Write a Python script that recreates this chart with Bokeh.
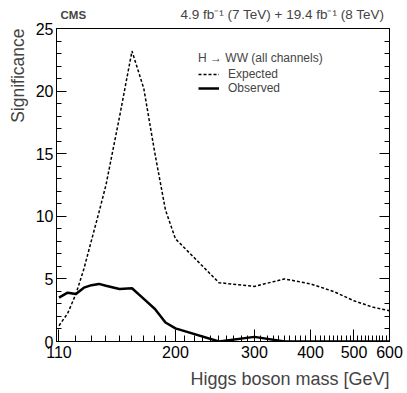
from bokeh.plotting import figure
from bokeh.models import (Range1d, FixedTicker, SingleIntervalTicker, LinearAxis,
                          Legend, LegendItem, Title, Label, CustomLabelingPolicy)
from bokeh.embed import file_html
from bokeh.resources import INLINE

# ---- data ----
mass = [110, 115, 120, 125, 130, 135, 140, 150, 160, 170, 180, 190, 200,
        250, 300, 350, 400, 450, 500, 550, 600]
expected = [1.26, 2.25, 3.8, 5.8, 8.1, 10.3, 12.5, 17.9, 23.2, 20.2, 15.0, 10.5, 8.2,
            4.7, 4.4, 5.0, 4.6, 4.0, 3.25, 2.75, 2.45]
observed = [3.5, 3.9, 3.8, 4.3, 4.5, 4.6, 4.45, 4.2, 4.25, 3.4, 2.6, 1.52, 1.05,
            0.0, 0.37, 0.0, 0.0, 0.0, 0.0, 0.0, 0.0]
x_major = [110, 200, 300, 400, 500, 600]
x_tick_labels = ["110", "200", "300", "400", "500", "600"]
x_minor = [m for m in range(120, 600, 10) if m not in x_major]
series_labels = ["Expected", "Observed"]
legend_title = "H \u2192 WW (all channels)"
lumi_text = "4.9 fb\u207b\u00b9 (7 TeV) + 19.4 fb\u207b\u00b9 (8 TeV)"

FONT = "Liberation Sans"

p = figure(x_axis_type="log", x_range=Range1d(108.6, 600), y_range=Range1d(0, 25),
           frame_width=333, frame_height=313,
           min_border_left=53, min_border_right=20, min_border_top=28, min_border_bottom=51,
           output_backend="svg", toolbar_location=None)
p.grid.visible = False
p.outline_line_color = "black"
p.outline_line_width = 1
p.background_fill_color = "white"
p.border_fill_color = "white"

r_exp = p.line(mass, expected, line_color="black", line_width=1.5, line_dash="3 2")
r_obs = p.line(mass, observed, line_color="black", line_width=2.5)

# x axis
xa = p.xaxis[0]
xa.ticker = FixedTicker(ticks=x_major, minor_ticks=x_minor)
xa.major_label_overrides = {v: s for v, s in zip(x_major, x_tick_labels)}
xa.major_tick_in = 12
xa.major_tick_out = 0
xa.minor_tick_in = 6
xa.minor_tick_out = 0
xa.major_label_text_font = FONT
xa.major_label_text_font_size = "16px"
xa.major_label_text_color = "black"
xa.major_label_standoff = 4
xa.axis_line_color = "black"
xa.major_tick_line_color = "black"
xa.minor_tick_line_color = "black"

# y axis
ya = p.yaxis[0]
ya.ticker = SingleIntervalTicker(interval=5, num_minor_ticks=5)
ya.major_tick_in = 10
ya.major_tick_out = 0
ya.minor_tick_in = 5
ya.minor_tick_out = 0
ya.major_label_text_font = FONT
ya.major_label_text_font_size = "16px"
ya.major_label_text_color = "black"
ya.major_label_standoff = 3
ya.axis_line_color = "black"

ra = LinearAxis(ticker=SingleIntervalTicker(interval=5, num_minor_ticks=5),
                major_label_policy=CustomLabelingPolicy(code="return []"),
                major_label_standoff=0,
                major_tick_in=10, major_tick_out=0, minor_tick_in=5, minor_tick_out=0,
                axis_line_color="black")
p.add_layout(ra, "right")

# axis titles
p.add_layout(Title(text="Higgs boson mass [GeV]", align="right", text_font=FONT,
                   text_font_size="18px", text_font_style="normal", standoff=12), "below")
p.add_layout(Title(text="Significance", align="right", text_font=FONT,
                   text_font_size="17.5px", text_font_style="normal", standoff=10), "left")

# header labels, placed in the top side panel so they are not clipped to the frame
p.add_layout(Label(x=4, y=14, x_units="screen", y_units="screen", text="CMS",
                   text_font=FONT, text_font_size="11.5px", text_font_style="bold",
                   text_baseline="alphabetic"), "above")
p.add_layout(Label(x=328, y=2, x_units="screen", y_units="screen", text=lumi_text,
                   text_font=FONT, text_font_size="13.5px", text_align="right",
                   text_baseline="alphabetic"), "above")

legend = Legend(items=[LegendItem(label=series_labels[0], renderers=[r_exp]),
                       LegendItem(label=series_labels[1], renderers=[r_obs])],
                title=legend_title, location=(142, 246),
                title_text_font=FONT, title_text_font_size="12px", title_text_font_style="normal",
                label_text_font=FONT, label_text_font_size="12px",
                glyph_width=21, glyph_height=14, label_height=14, label_standoff=9,
                spacing=0, padding=0, margin=0, title_standoff=2,
                border_line_color=None, background_fill_alpha=0)
p.add_layout(legend)

open("out.html", "w").write(file_html(p, INLINE))
